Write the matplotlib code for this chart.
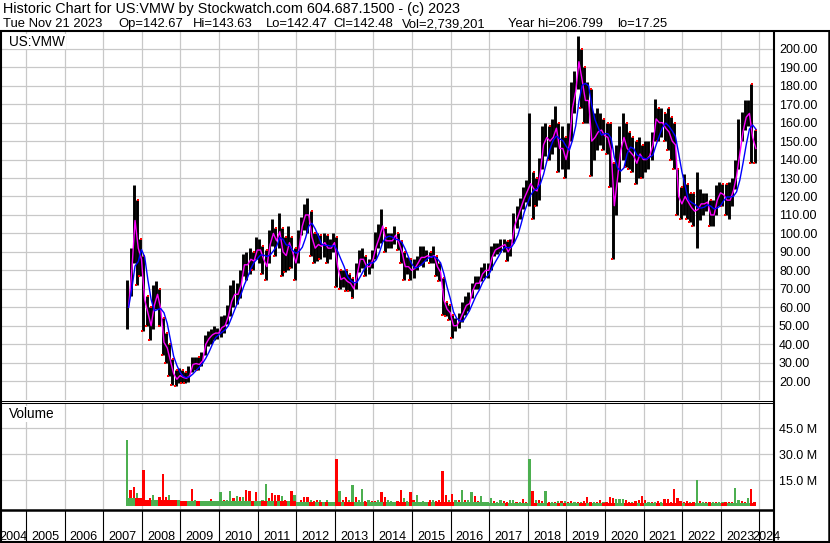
import matplotlib
matplotlib.use('Agg')
import matplotlib.pyplot as plt
import numpy as np
import pandas as pd

W, H = 830, 543
plt.rcParams['font.family'] = ['Liberation Sans', 'DejaVu Sans']

# monthly bars, Aug 2007 .. Nov 2023
price_hi = [75, 92, 126, 118, 97,
            88, 66, 60, 72, 74, 70, 54, 46, 40, 32, 26, 27,
            26, 25, 28, 33, 33, 33, 36, 45, 47, 48, 50, 49,
            55, 56, 61, 72, 75, 73, 80, 89, 90, 92, 90, 98,
            97, 93, 91, 102, 108, 103, 111, 103, 98, 104, 98, 92,
            102, 109, 116, 119, 112, 100, 100, 99, 100, 99, 97, 100,
            98, 80, 80, 80, 78, 76, 84, 91, 92, 88, 86, 91,
            101, 105, 113, 103, 100, 100, 104, 100, 96, 90, 87, 86,
            86, 88, 93, 93, 91, 90, 93, 88, 84, 76, 63, 61,
            56, 54, 57, 63, 66, 68, 73, 77, 77, 82, 84, 84,
            93, 95, 95, 97, 97, 96, 97, 111, 115, 119, 125, 129,
            165, 133, 130, 141, 158, 160, 158, 162, 169, 160, 158, 152,
            160, 182, 188, 206.8, 200, 190, 182, 178, 165, 168, 165, 162,
            160, 160, 138, 148, 158, 165, 160, 155, 152, 150, 152, 148,
            150, 150, 155, 173, 168, 168, 165, 168, 163, 160, 135, 125,
            132, 127, 122, 122, 133, 124, 122, 122, 118, 118, 126, 128,
            127, 127, 128, 130, 140, 162, 166, 172, 172, 181, 156]
price_lo = [48, 66, 84, 72, 77,
            47, 50, 42, 48, 59, 50, 34, 30, 23, 18, 17.25, 19,
            19, 19, 19.5, 25, 26, 26, 28, 34, 39, 40, 42, 43,
            44, 46, 51, 55, 60, 62, 65, 77, 75, 78, 80, 86,
            84, 78, 75, 84, 93, 88, 92, 77, 79, 80, 81, 75,
            84, 99, 102, 100, 88, 84, 85, 86, 87, 84, 86, 90,
            71, 70, 71, 69, 69, 65, 70, 79, 81, 77, 78, 81,
            86, 92, 95, 90, 92, 92, 94, 91, 84, 75, 78, 75,
            76, 80, 83, 82, 85, 84, 84, 77, 74, 56, 55, 53,
            43.5, 47, 49, 52, 56, 58, 65, 70, 70, 74, 76, 76,
            80, 88, 89, 90, 90, 85, 88, 95, 103, 108, 113, 117,
            115, 108, 115, 118, 135, 142, 140, 143, 147, 133, 135, 130,
            135, 150, 165, 178, 168, 160, 160, 131, 140, 145, 148, 145,
            143, 125, 86, 110, 128, 140, 136, 135, 133, 127, 130, 130,
            133, 135, 140, 150, 150, 152, 150, 145, 140, 135, 110, 108,
            110, 108, 106, 104, 92, 107, 110, 112, 104, 104, 110, 115,
            115, 110, 108, 115, 124, 135, 150, 156, 158, 138, 138]
price_avg = [60, 80, 107, 92, 86,
             64, 57, 50, 61, 67, 59, 41, 38, 31, 24, 21, 23,
             22, 21.5, 23, 29, 29.5, 29, 31, 40, 43, 45, 46, 46,
             49, 50, 55, 63, 67, 67, 72, 83, 83, 86, 85, 91,
             91, 86, 82, 94, 100, 96, 101, 90, 88, 95, 90, 84,
             92, 104, 110, 110, 98, 92, 94, 93, 95, 92, 92, 95,
             82, 75, 76, 74, 73, 70, 77, 86, 86, 82, 82, 86,
             93, 98, 104, 96, 96, 96, 99, 95, 90, 82, 82, 80,
             81, 84, 87, 87, 88, 87, 88, 82, 79, 64, 59, 57,
             50, 50, 53, 57, 61, 62, 69, 73, 73, 78, 80, 80,
             87, 91, 92, 93, 94, 90, 93, 104, 109, 114, 119, 123,
             127, 124, 123, 133, 148, 152, 150, 152, 157, 146, 146, 140,
             148, 168, 177, 193, 183, 172, 172, 150, 152, 155, 156, 153,
             152, 145, 115, 130, 145, 152, 146, 144, 142, 138, 143, 140,
             140, 142, 148, 162, 160, 160, 157, 155, 150, 148, 120, 116,
             120, 117, 114, 112, 113, 116, 116, 117, 110, 110, 118, 122,
             121, 118, 118, 123, 131, 143, 155, 163, 165, 152, 146]

# tallest daily volume in each month (millions) and its direction
vol_peak = [38, 9.4, 11.3, 7.5, 2.7,
            21, 3.7, 4.6, 6.5, 2.7, 5.6, 18.7, 5.2, 6.5, 3.7, 2.7, 2.7,
            3.3, 2.7, 3.0, 10, 3.7, 3.0, 3.0, 2.7, 2.0, 4.2, 2.7, 2.3,
            8.5, 3.7, 3.7, 8.8, 4.6, 6.0, 5.2, 5.2, 9.4, 9.0, 2.7, 8.3,
            2.7, 3.7, 12.9, 4.6, 7.9, 6.5, 6.5, 6.0, 3.7, 3.3, 8.8, 6.5,
            2.7, 3.7, 5.2, 5.6, 3.7, 3.3, 3.7, 3.7, 2.7, 3.7, 2.3, 2.3,
            27.3, 8.8, 3.7, 5.2, 3.7, 12.3, 5.2, 3.7, 9.8, 3.0, 3.7, 3.0,
            3.0, 3.7, 8.5, 5.6, 3.7, 3.3, 2.7, 3.0, 9.4, 5.0, 3.0, 8.5,
            3.7, 6.5, 2.7, 3.3, 2.7, 3.7, 3.7, 3.0, 3.7, 20.4, 6.5, 3.7,
            7.1, 3.7, 3.7, 9.4, 3.7, 3.7, 8.5, 6.0, 3.0, 6.0, 2.7, 2.7,
            5.0, 3.0, 2.3, 3.7, 3.0, 2.7, 4.0, 3.7, 2.7, 2.7, 4.2, 2.7,
            27.3, 8.8, 3.7, 3.7, 3.0, 9.0, 2.7, 2.7, 2.7, 3.3, 3.0, 3.0,
            2.3, 3.0, 2.7, 2.3, 2.3, 3.0, 5.6, 2.7, 2.3, 2.3, 3.7, 2.3,
            2.7, 5.2, 4.6, 4.2, 4.2, 4.2, 3.7, 2.7, 2.3, 3.0, 4.0, 6.0,
            3.7, 2.3, 2.7, 2.7, 3.0, 2.7, 4.2, 4.2, 2.7, 10.0, 4.6, 3.0,
            2.7, 3.0, 2.7, 2.7, 15.0, 3.0, 2.3, 2.3, 2.7, 2.3, 2.7, 2.3,
            2.3, 2.7, 2.3, 2.7, 10.4, 3.7, 3.0, 2.7, 4.6, 9.8, 2.7]
vol_dir = ("grrgr" "rrrgrrrrgrgr" "rggrgrggrrgr" "grggrgrgrrgr" "rggrrrrgrgrg"
           "grrrgrrgrgrg" "rgrrggrggrgr" "rgrrggrrrggr" "rgrgrrgrrrrg" "rgrgrggrrggr"
           "grggrrggrgrr" "grgrrgrgrgrg" "rrgrgrrrgrrg" "rrrgggrrgrrr" "rgrgrgrrrrrr"
           "rrgrgrgrrgrg" "grrrggrrgrr")
# typical daily volume per year (millions), 2007..2023
vol_base = [5.0, 4.0, 3.0, 3.0, 3.0, 2.6, 2.6, 2.4, 2.4, 2.4, 2.0, 2.0, 1.8, 1.9, 1.9, 1.8, 1.8]

header1 = "Historic Chart for US:VMW by Stockwatch.com 604.687.1500 - (c) 2023"
header2 = ["Tue Nov 21 2023", "Op=142.67", "Hi=143.63", "Lo=142.47", "Cl=142.48",
           "Vol=2,739,201", "Year hi=206.799", "lo=17.25"]
header2_x = [3, 118, 193, 266, 333, 402, 508, 617]
price_ticks = list(range(20, 201, 10))
vol_ticks = [15, 30, 45]
year_labels = list(range(2004, 2025))

t0 = 2007 + 7 / 12 + np.arange(len(price_avg)) / 12
tc = t0 + 1 / 24
hi = np.array(price_hi)
lo = np.array(price_lo)
avg = pd.Series(price_avg)
down = np.r_[False, np.diff(price_avg) < 0]


def px2yr(px):
    return 2005 + (px - 26) / 38.6


def box(x0, y0, x1, y1):
    return [x0 / W, 1 - y1 / H, (x1 - x0) / W, (y1 - y0) / H]


fig = plt.figure(figsize=(W / 100, H / 100), dpi=100)
fig.patch.set_facecolor('white')
xlim = (px2yr(1), px2yr(774))

ax_p = fig.add_axes(box(1, 32, 774, 400))
ax_v = fig.add_axes(box(1, 403, 774, 509))
ax_y = fig.add_axes(box(1, 510, 774, 542))

for ax in (ax_p, ax_v):
    ax.set_xlim(xlim)
    ax.set_xticks(np.arange(2005, 2025))
    ax.tick_params(axis='x', length=0, labelbottom=False)
    ax.tick_params(axis='y', length=0, pad=3.6, labelsize=9.0, labelcolor='black')
    ax.yaxis.tick_right()
    ax.grid(True, color='#c8c8c8', lw=0.9)
    ax.set_axisbelow(True)
    for s in ax.spines.values():
        s.set_visible(False)

# price panel
ax_p.set_ylim(9.76, 209.1)
ax_p.set_yticks(price_ticks)
ax_p.set_yticklabels([f"{v:.2f}" for v in price_ticks])
ax_p.vlines(tc, lo, hi, color='black', lw=2.1, zorder=2)
ax_p.plot(tc[down] - 0.3 / 12, lo[down], 's', color='red', ms=1.8, mew=0, zorder=3)
ax_p.plot(tc[down] + 0.3 / 12, hi[down], 's', color='red', ms=1.8, mew=0, zorder=3)
ax_p.plot(t0 + 0.9 / 12, avg, color='#ff00ff', lw=1.0, zorder=4)
ax_p.plot(t0 + 0.9 / 12, avg.rolling(4, min_periods=1).mean(), color='#0000ff', lw=1.0, zorder=5)

# volume panel
ax_v.set_ylim(-1.44, 59.5)
ax_v.set_yticks(vol_ticks)
ax_v.set_yticklabels([f"{v:.1f} M" for v in vol_ticks])
green, red = '#4caf50', '#ff0000'
peak_col = [green if c == 'g' else red for c in vol_dir]
yrs = np.floor(t0 + 1e-9).astype(int)
base = np.array([vol_base[y - 2007] for y in yrs])
base_col = [red if d else green for d in down]
ax_v.bar(tc, vol_peak, width=0.7 / 12, color=peak_col, lw=0, zorder=2)
ax_v.bar(tc, base, width=1 / 12, color=base_col, lw=0, zorder=3)

# year band
ax_y.set_xlim(xlim)
ax_y.set_ylim(0, 1)
ax_y.axis('off')
bounds = [y for y in year_labels if xlim[0] < y < xlim[1]]
ax_y.vlines(bounds, 0, 1, color='black', lw=0.8)
for y in year_labels:
    a, b = max(y, xlim[0]), min(y + 1, xlim[1])
    ax_y.text((a + b) / 2, 0.07, str(y), ha='center', va='baseline', fontsize=9.1)

# frame and header, in pixel coordinates
ax_f = fig.add_axes([0, 0, 1, 1], zorder=10)
ax_f.set_xlim(0, W)
ax_f.set_ylim(H, 0)
ax_f.axis('off')
ax_f.patch.set_alpha(0)
k = dict(color='black', solid_capstyle='butt')
ax_f.plot([0, W], [31, 31], lw=1.5, **k)
ax_f.plot([1, 1], [31, H], lw=1.5, **k)
ax_f.plot([829, 829], [31, H], lw=1.8, **k)
ax_f.plot([0, W], [542, 542], lw=1.5, **k)
ax_f.plot([774, 774], [31, 542], lw=1.5, **k)
ax_f.plot([0, 774], [400.5, 400.5], lw=0.75, **k)
ax_f.plot([0, 774], [403, 403], lw=0.75, **k)
ax_f.plot([0, 774], [509.5, 509.5], lw=1.8, **k)

ax_f.text(3, 13.3, header1, fontsize=10.4, va='baseline')
for s, x in zip(header2, header2_x):
    ax_f.text(x, 27.3, s, fontsize=9.4, va='baseline')
ax_f.text(9, 45.5, "US:VMW", fontsize=9.8, va='baseline',
          bbox=dict(facecolor='white', edgecolor='none', pad=0.5))
ax_f.text(9, 418, "Volume", fontsize=9.8, va='baseline',
          bbox=dict(facecolor='white', edgecolor='none', pad=0.5))

fig.savefig('out.png', dpi=100)
